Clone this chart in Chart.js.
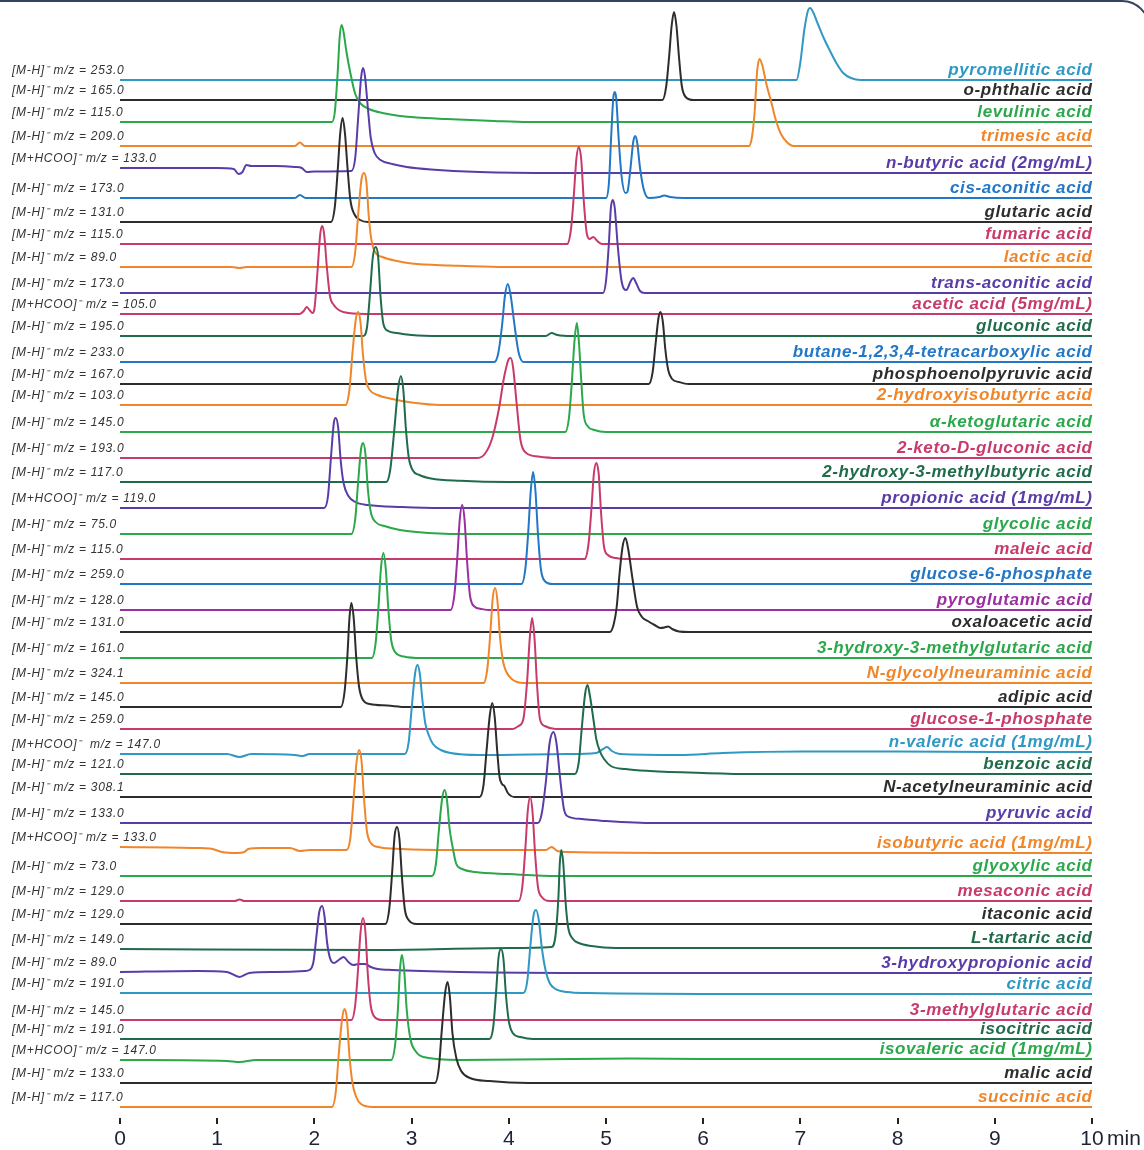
<!DOCTYPE html>
<html><head><meta charset="utf-8">
<script src="https://cdn.jsdelivr.net/npm/chart.js@4"></script>
<style>
html,body{margin:0;padding:0;background:#fff;overflow:hidden}
#wrap{position:relative;width:1144px;height:1150px;overflow:hidden}
#frame{position:absolute;left:-40px;top:0;width:1190px;height:1300px;border:2px solid #34435f;border-radius:28px;box-sizing:border-box;pointer-events:none}
canvas{position:absolute;left:0;top:0}
</style></head><body>
<div id="wrap"><canvas id="c" width="1144" height="1150"></canvas><div id="frame"></div></div>
<script>
// ---------- DATA ----------
const compounds = [
 'pyromellitic acid','o-phthalic acid','levulinic acid','trimesic acid','n-butyric acid (2mg/mL)',
 'cis-aconitic acid','glutaric acid','fumaric acid','lactic acid','trans-aconitic acid',
 'acetic acid (5mg/mL)','gluconic acid','butane-1,2,3,4-tetracarboxylic acid','phosphoenolpyruvic acid','2-hydroxyisobutyric acid',
 'α-ketoglutaric acid','2-keto-D-gluconic acid','2-hydroxy-3-methylbutyric acid','propionic acid (1mg/mL)','glycolic acid',
 'maleic acid','glucose-6-phosphate','pyroglutamic acid','oxaloacetic acid','3-hydroxy-3-methylglutaric acid',
 'N-glycolylneuraminic acid','adipic acid','glucose-1-phosphate','n-valeric acid (1mg/mL)','benzoic acid',
 'N-acetylneuraminic acid','pyruvic acid','isobutyric acid (1mg/mL)','glyoxylic acid','mesaconic acid',
 'itaconic acid','L-tartaric acid','3-hydroxypropionic acid','citric acid','3-methylglutaric acid',
 'isocitric acid','isovaleric acid (1mg/mL)','malic acid','succinic acid'
];
const ionLabels = [
 '[M-H]⁻ m/z = 253.0','[M-H]⁻ m/z = 165.0','[M-H]⁻ m/z = 115.0','[M-H]⁻ m/z = 209.0','[M+HCOO]⁻ m/z = 133.0',
 '[M-H]⁻ m/z = 173.0','[M-H]⁻ m/z = 131.0','[M-H]⁻ m/z = 115.0','[M-H]⁻ m/z = 89.0','[M-H]⁻ m/z = 173.0',
 '[M+HCOO]⁻ m/z = 105.0','[M-H]⁻ m/z = 195.0','[M-H]⁻ m/z = 233.0','[M-H]⁻ m/z = 167.0','[M-H]⁻ m/z = 103.0',
 '[M-H]⁻ m/z = 145.0','[M-H]⁻ m/z = 193.0','[M-H]⁻ m/z = 117.0','[M+HCOO]⁻ m/z = 119.0','[M-H]⁻ m/z = 75.0',
 '[M-H]⁻ m/z = 115.0','[M-H]⁻ m/z = 259.0','[M-H]⁻ m/z = 128.0','[M-H]⁻ m/z = 131.0','[M-H]⁻ m/z = 161.0',
 '[M-H]⁻ m/z = 324.1','[M-H]⁻ m/z = 145.0','[M-H]⁻ m/z = 259.0','[M+HCOO]⁻  m/z = 147.0','[M-H]⁻ m/z = 121.0',
 '[M-H]⁻ m/z = 308.1','[M-H]⁻ m/z = 133.0','[M+HCOO]⁻ m/z = 133.0','[M-H]⁻ m/z = 73.0','[M-H]⁻ m/z = 129.0',
 '[M-H]⁻ m/z = 129.0','[M-H]⁻ m/z = 149.0','[M-H]⁻ m/z = 89.0','[M-H]⁻ m/z = 191.0','[M-H]⁻ m/z = 145.0',
 '[M-H]⁻ m/z = 191.0','[M+HCOO]⁻ m/z = 147.0','[M-H]⁻ m/z = 133.0','[M-H]⁻ m/z = 117.0'
];
// flat [time(min), intensity, time, intensity, ...]
const tracePoints = [
 [0,0, 6.96,0, 7.00,18, 7.04,50, 7.08,70, 7.10,72, 7.13,68, 7.18,56, 7.24,42, 7.30,30, 7.37,17, 7.44,7, 7.52,2, 7.62,0, 10,0],
 [0,0, 5.58,0, 5.62,14, 5.65,44, 5.675,74, 5.70,88, 5.725,74, 5.75,44, 5.78,14, 5.82,3, 5.90,0, 10,0],
 [0,0, 2.18,0, 2.21,10, 2.24,50, 2.26,85, 2.28,97, 2.30,90, 2.33,70, 2.37,49, 2.42,28, 2.48,18, 2.56,13, 2.70,9, 2.88,6, 3.05,4.5, 3.36,3, 3.85,1, 4.2,0, 10,0],
 [0,0, 1.80,0, 1.85,3.5, 1.90,0, 6.47,0, 6.50,8, 6.53,35, 6.555,75, 6.58,87, 6.61,80, 6.65,62, 6.70,44, 6.75,25, 6.80,12, 6.86,4, 6.93,0, 10,0],
 [0,5, 1.0,5, 1.17,4, 1.22,-1, 1.26,1, 1.30,8, 1.35,7, 1.6,7, 1.8,6, 1.87,5, 1.92,1, 2.0,1.5, 2.38,2, 2.42,15, 2.45,55, 2.48,95, 2.50,105, 2.52,97, 2.55,65, 2.58,35, 2.62,20, 2.68,13, 2.8,9, 2.95,6, 3.2,3.5, 3.7,1, 4.5,0, 10,0],
 [0,0, 1.80,0, 1.85,3, 1.91,0, 5.00,0, 5.03,15, 5.055,65, 5.075,100, 5.09,106, 5.105,100, 5.13,60, 5.16,22, 5.20,5, 5.22,6, 5.25,28, 5.28,56, 5.30,62, 5.32,56, 5.35,30, 5.39,8, 5.44,0, 5.55,1, 5.60,2.5, 5.66,1, 5.80,0, 10,0],
 [0,0, 2.17,0, 2.21,15, 2.24,52, 2.265,88, 2.29,104, 2.315,88, 2.34,55, 2.37,22, 2.41,8, 2.47,2, 2.55,0, 10,0],
 [0,0, 4.60,0, 4.64,15, 4.67,50, 4.695,85, 4.72,97, 4.745,85, 4.77,45, 4.80,12, 4.83,5, 4.87,7, 4.91,3, 4.96,0, 10,0],
 [0,0, 1.15,0, 1.23,-1, 1.30,0, 2.38,0, 2.42,15, 2.45,52, 2.485,88, 2.51,94, 2.535,85, 2.56,50, 2.59,25, 2.63,14, 2.70,10, 2.85,6, 3.0,3.5, 3.4,1.5, 3.9,0, 10,0],
 [0,0, 4.97,0, 5.00,12, 5.03,50, 5.05,85, 5.07,93, 5.09,85, 5.12,48, 5.16,12, 5.21,3, 5.25,11, 5.28,15, 5.31,10, 5.35,2, 5.40,0, 10,0],
 [0,0, 1.85,0, 1.89,3, 1.92,7, 1.95,4, 1.98,1, 2.00,5, 2.03,40, 2.06,80, 2.08,88, 2.10,80, 2.13,45, 2.16,18, 2.20,9, 2.25,4, 2.35,1, 2.6,0, 10,0],
 [0,0, 2.50,0, 2.54,8, 2.57,40, 2.60,78, 2.63,89, 2.655,80, 2.68,40, 2.71,12, 2.76,5, 2.85,3, 3.0,1, 3.3,0, 4.38,0, 4.44,3, 4.50,1, 4.65,0, 10,0],
 [0,0, 3.85,0, 3.89,8, 3.93,36, 3.96,66, 3.99,78, 4.02,66, 4.06,36, 4.10,10, 4.15,0, 10,0],
 [0,0, 5.44,0, 5.48,12, 5.51,40, 5.54,66, 5.56,72, 5.585,62, 5.61,35, 5.64,14, 5.68,5, 5.75,2, 5.85,0, 10,0],
 [0,0, 2.32,0, 2.36,15, 2.39,50, 2.425,85, 2.45,93, 2.475,82, 2.50,50, 2.53,25, 2.57,15, 2.65,10, 2.80,6, 3.0,2.5, 3.3,0, 10,0],
 [0,0, 4.58,0, 4.62,15, 4.65,52, 4.675,90, 4.70,109, 4.72,92, 4.745,52, 4.77,18, 4.81,6, 4.88,2, 5.0,0, 10,0],
 [0,0, 3.68,0, 3.76,5, 3.83,20, 3.90,50, 3.95,80, 4.00,99, 4.02,100, 4.045,90, 4.08,55, 4.12,18, 4.18,5, 4.30,1.5, 4.5,0, 10,0],
 [0,0, 2.74,0, 2.78,12, 2.82,50, 2.86,92, 2.89,106, 2.915,92, 2.94,55, 2.97,25, 3.01,12, 3.08,7, 3.2,3.5, 3.5,1.2, 4.0,0, 10,0],
 [0,0, 2.10,0, 2.14,12, 2.17,50, 2.20,85, 2.22,90, 2.245,80, 2.27,48, 2.30,25, 2.35,12, 2.42,6, 2.55,3, 2.9,1, 3.3,0, 10,0],
 [0,0, 2.38,0, 2.42,15, 2.45,52, 2.48,85, 2.50,91, 2.525,80, 2.55,45, 2.58,22, 2.63,12, 2.72,8, 2.88,4, 3.05,2, 3.5,0, 10,0],
 [0,0, 4.78,0, 4.82,15, 4.85,50, 4.875,85, 4.90,96, 4.925,85, 4.95,45, 4.98,12, 5.02,4, 5.10,1, 5.2,0, 10,0],
 [0,0, 4.13,0, 4.17,15, 4.20,52, 4.225,92, 4.25,112, 4.275,92, 4.30,50, 4.33,15, 4.37,3, 4.45,0, 10,0],
 [0,0, 3.40,0, 3.44,15, 3.47,52, 3.495,90, 3.52,105, 3.545,90, 3.57,50, 3.60,15, 3.64,4, 3.72,1, 3.8,0, 10,0],
 [0,0, 5.04,0, 5.08,8, 5.11,25, 5.14,59, 5.17,85, 5.20,94, 5.23,82, 5.27,55, 5.32,25, 5.37,15, 5.43,11, 5.50,7, 5.56,4, 5.60,4.5, 5.64,5.5, 5.68,3, 5.75,0.5, 5.85,0, 10,0],
 [0,0, 2.59,0, 2.63,15, 2.66,52, 2.685,90, 2.71,105, 2.735,88, 2.76,50, 2.79,18, 2.83,6, 2.92,1.5, 3.1,0, 10,0],
 [0,0, 3.74,0, 3.78,15, 3.81,50, 3.835,85, 3.86,95, 3.885,80, 3.91,45, 3.94,22, 3.97,12, 4.03,4, 4.15,0, 10,0],
 [0,0, 2.27,0, 2.31,15, 2.34,52, 2.36,88, 2.38,104, 2.405,88, 2.43,50, 2.46,20, 2.50,7, 2.57,3, 2.75,1.5, 2.95,0, 10,0],
 [0,0, 4.04,0, 4.10,3, 4.15,10, 4.19,50, 4.215,90, 4.24,111, 4.265,90, 4.29,45, 4.32,10, 4.37,3, 4.48,0, 10,0],
 [0,0, 1.1,0, 1.23,-3, 1.35,0, 1.8,-1, 1.88,-2, 1.95,0, 2.93,0, 2.97,12, 3.00,45, 3.035,80, 3.06,89, 3.085,80, 3.11,55, 3.14,31, 3.18,18, 3.22,10, 3.30,4, 3.40,1, 3.7,-1, 4.6,0, 4.9,1, 4.97,5, 5.01,7, 5.06,3, 5.14,0, 5.76,-1, 6.2,1, 7.0,2.5, 8.0,2.5, 9.0,2, 10,2],
 [0,0, 4.68,0, 4.72,12, 4.75,45, 4.785,80, 4.81,89, 4.835,78, 4.87,55, 4.90,35, 4.94,22, 4.98,15, 5.05,8, 5.2,5, 5.45,3, 6.0,1, 6.5,0, 10,0],
 [0,0, 3.70,0, 3.74,12, 3.77,45, 3.805,82, 3.83,94, 3.855,80, 3.88,47, 3.905,20, 3.93,13, 3.955,11, 3.99,4, 4.06,0, 10,0],
 [0,0, 4.30,0, 4.34,10, 4.38,40, 4.42,80, 4.46,91, 4.49,80, 4.53,43, 4.565,15, 4.60,7, 4.75,4, 5.0,2, 5.5,0, 10,0],
 [0,6, 0.8,5, 0.95,4, 1.05,1, 1.2,0, 1.28,1, 1.32,4, 1.45,5, 1.75,5, 1.85,2, 1.95,3, 2.33,3, 2.37,15, 2.40,50, 2.435,92, 2.46,103, 2.485,92, 2.51,55, 2.54,22, 2.58,10, 2.66,6, 2.9,4, 3.4,3, 4.38,3, 4.44,6, 4.50,2, 4.6,1, 6.0,0, 10,0],
 [0,0, 3.21,0, 3.25,12, 3.28,45, 3.315,78, 3.34,86, 3.365,75, 3.39,48, 3.42,30, 3.46,12, 3.52,7, 3.65,4, 4.0,2, 4.5,0, 10,0],
 [0,0, 1.18,0, 1.23,1.5, 1.28,0, 4.10,0, 4.14,15, 4.17,52, 4.195,90, 4.22,104, 4.245,88, 4.27,48, 4.30,14, 4.34,4, 4.42,0, 10,0],
 [0,0, 2.73,0, 2.77,15, 2.80,52, 2.825,88, 2.85,97, 2.875,85, 2.90,48, 2.93,15, 2.97,4, 3.05,0, 10,0],
 [0,-1, 2.67,-2, 4.0,0, 4.44,1, 4.48,12, 4.51,50, 4.525,85, 4.54,98, 4.56,85, 4.585,45, 4.61,21, 4.66,9, 4.72,5, 4.85,2, 5.1,0, 10,0],
 [0,0, 0.8,1, 1.1,0, 1.23,-5, 1.33,-1, 1.6,0, 1.9,1, 1.95,2, 1.99,10, 2.02,35, 2.05,60, 2.08,66, 2.105,55, 2.13,30, 2.16,14, 2.20,9, 2.25,12, 2.30,15, 2.35,10, 2.40,7, 2.46,8, 2.52,8, 2.58,5, 2.65,3, 2.8,2, 3.5,0, 5,-1, 10,-1],
 [0,0, 4.15,0, 4.19,12, 4.22,45, 4.255,78, 4.28,83, 4.31,72, 4.34,45, 4.38,22, 4.42,10, 4.48,4, 4.6,1, 4.8,0, 6.5,-1, 10,-1],
 [0,0, 2.38,0, 2.42,15, 2.45,52, 2.475,88, 2.50,102, 2.525,88, 2.55,45, 2.58,14, 2.62,3, 2.70,0, 10,0],
 [0,0, 3.80,0, 3.84,12, 3.87,48, 3.895,82, 3.92,90, 3.945,80, 3.97,45, 4.00,18, 4.04,6, 4.12,2, 4.25,0, 10,0],
 [0,0, 1.1,-1, 1.23,-2, 1.4,0, 2.79,0, 2.83,15, 2.86,52, 2.88,90, 2.90,105, 2.925,88, 2.95,50, 2.99,20, 3.04,9, 3.12,3, 3.5,0, 5.25,1.5, 6.0,1, 10,1],
 [0,0, 3.24,0, 3.28,15, 3.31,52, 3.345,90, 3.37,101, 3.395,85, 3.42,50, 3.46,25, 3.51,12, 3.60,5, 3.8,2, 4.2,0, 10,0],
 [0,0, 2.18,0, 2.22,15, 2.25,52, 2.285,88, 2.31,98, 2.335,88, 2.36,52, 2.39,25, 2.43,10, 2.48,3, 2.6,0, 10,0]
];
const xTickLabels = ['0','1','2','3','4','5','6','7','8','9','10'];
const xUnit = 'min';

// ---------- LAYOUT / STYLE ----------
// vertical stacking offset of each trace (same units as intensity)
const traceOffsets = [1038,1018,996,972,945,920,896,874,851,825,804,782,756,734,713,686,660,636,610,584,
  559,534,508,486,460,435,411,389,364,344,321,295,265,242,217,194,170,146,125,98,79,58,35,11];
const C = {T:'#2f98c4',B:'#2277c6',K:'#2d2d2d',G:'#2aa84a',O:'#f0862a',P:'#5a3ca8',M:'#9c2fa0',R:'#c93a6c',D:'#1f6b4a'};
const traceColors = ['T','K','G','O','P','B','K','R','O','P','R','D','B','K','O','G','R','D','P','G',
  'R','B','M','K','G','O','K','R','T','D','K','P','O','G','R','K','D','P','T','R','D','G','K','O'].map(k=>C[k]);

const datasets = compounds.map((name,i)=>{
  const p = tracePoints[i], data = [];
  for (let k=0;k<p.length;k+=2) data.push({x:p[k], y:traceOffsets[i]+p[k+1]});
  return {label:name, data, borderColor:traceColors[i], borderWidth:2, pointRadius:0,
    fill:false, cubicInterpolationMode:'monotone', order:-i};
});

const labelPlugin = {
  id:'traceLabels',
  afterDatasetsDraw(chart){
    const ctx = chart.ctx, xs = chart.scales.x, ys = chart.scales.y;
    ctx.save();
    ctx.textBaseline = 'alphabetic';
    compounds.forEach((name,i)=>{
      const p = tracePoints[i];
      const yStart = ys.getPixelForValue(traceOffsets[i]+p[1]);
      const yEnd = ys.getPixelForValue(traceOffsets[i]+p[p.length-1]);
      ctx.font = 'italic 12px "Liberation Sans", Arial, sans-serif';
      ctx.letterSpacing = '0.7px';
      ctx.fillStyle = '#333';
      ctx.textAlign = 'left';
      ctx.fillText(ionLabels[i], 12, yStart-6);
      ctx.font = 'italic bold 17px "Liberation Sans", Arial, sans-serif';
      ctx.letterSpacing = '0.6px';
      ctx.fillStyle = traceColors[i];
      ctx.textAlign = 'right';
      ctx.fillText(name, xs.getPixelForValue(10)+0.5, yEnd-5);
    });
    ctx.letterSpacing = '0px';
    ctx.font = '21px "Liberation Sans", Arial, sans-serif';
    ctx.fillStyle = '#1e2235';
    ctx.textAlign = 'left';
    ctx.fillText(xUnit, xs.getPixelForValue(10)+15, 1145);
    ctx.restore();
  }
};

new Chart(document.getElementById('c'), {
  type:'line',
  data:{datasets},
  options:{
    responsive:false, animation:false, events:[],
    layout:{padding:{left:120,right:52,top:0,bottom:0}},
    plugins:{legend:{display:false}, tooltip:{enabled:false}},
    scales:{
      x:{type:'linear', min:0, max:10,
        afterFit:s=>{s.height=32;},
        border:{display:false},
        grid:{drawOnChartArea:false, drawTicks:true, tickLength:6, lineWidth:2, color:'#222'},
        ticks:{stepSize:1, padding:3, autoSkip:false, maxRotation:0, color:'#1e2235',
          font:{family:'"Liberation Sans", Arial, sans-serif', size:21},
          callback:v=>xTickLabels[v]}
      },
      y:{display:false, min:0, max:1118}
    }
  },
  plugins:[labelPlugin]
});
</script>
</body></html>
